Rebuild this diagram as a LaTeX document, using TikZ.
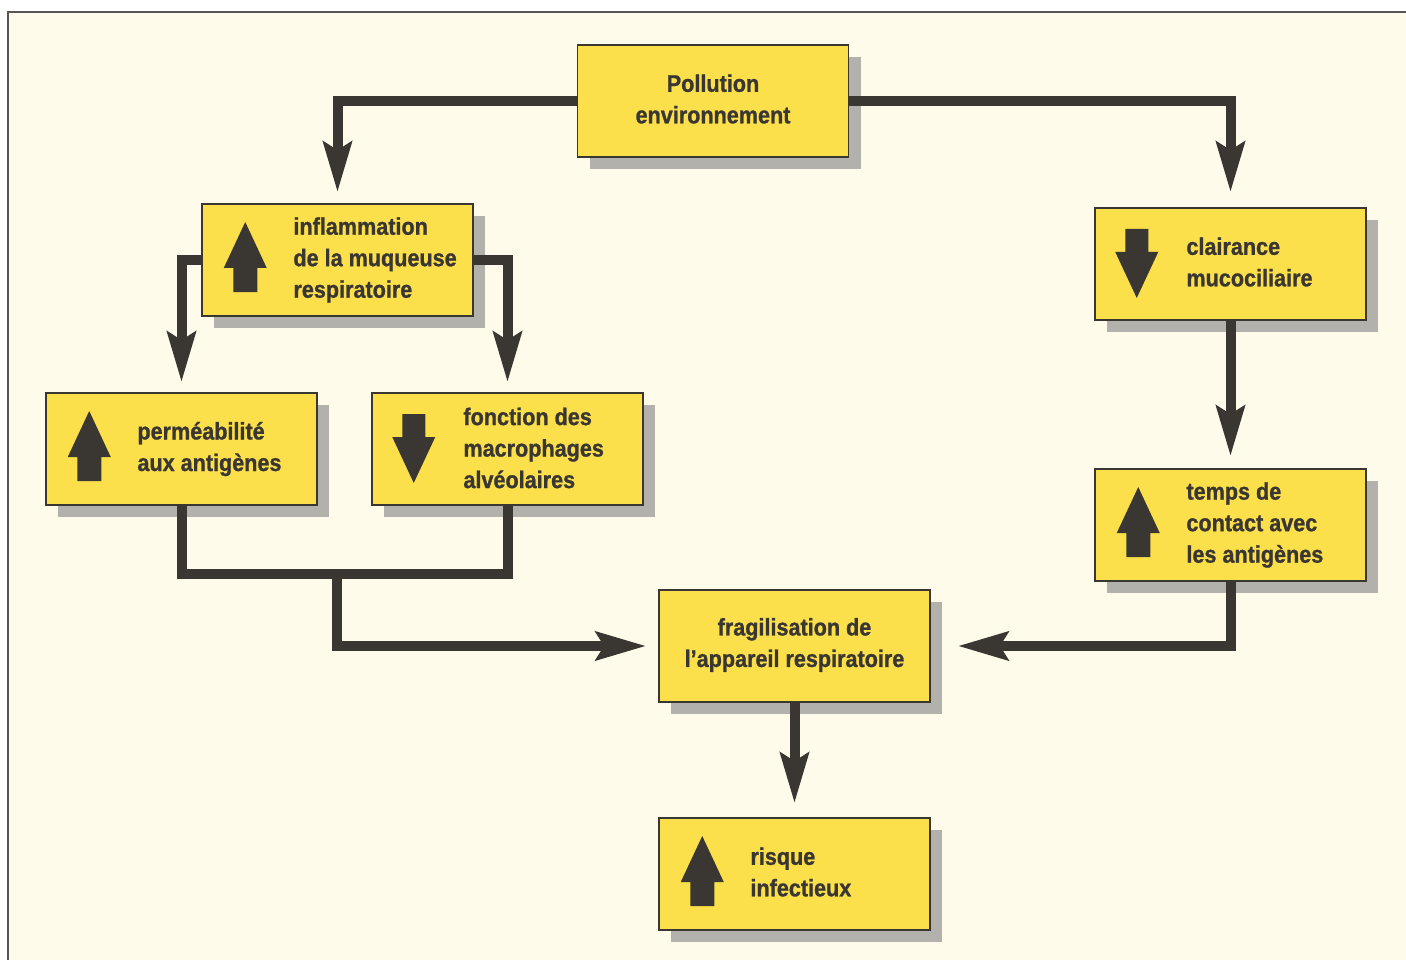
\documentclass[tikz,border=0pt]{standalone}
\usepackage{fontspec}
\newfontfamily\lblfont{Liberation Sans}[FakeStretch=0.9,FakeBold=1]
\usetikzlibrary{arrows.meta,shadows}
\definecolor{creamc}{HTML}{FEFBEA}
\definecolor{yellowc}{HTML}{FCE04B}
\definecolor{inkc}{HTML}{3A3632}
\definecolor{shadowc}{HTML}{B3B1AB}
\definecolor{framec}{HTML}{5A5552}
\tikzset{
  box/.style={draw=inkc, line width=1.5pt, fill=yellowc, minimum width=271pt, minimum height=112pt,
    inner sep=0pt, align=center, text=inkc, font=\lblfont\bfseries\fontsize{24}{31.5}\selectfont,
    drop shadow={shadow xshift=12pt, shadow yshift=-12pt, fill=shadowc, opacity=1}},
  lbl/.style={anchor=west, inner sep=0pt, align=left, text=inkc, font=\lblfont\bfseries\fontsize{24}{31.5}\selectfont},
  conn/.style={draw=inkc, line width=10pt, line join=miter, line cap=butt,
    -{Stealth[length=50pt, width=28pt, inset=8pt]}},
  link/.style={draw=inkc, line width=10pt, line join=miter, line cap=butt},
  upblk/.pic={\fill[inkc] (0,-38) -- (21.5,8) -- (12,8) -- (12,32) -- (-12,32) -- (-12,8) -- (-21.5,8) -- cycle;},
  dnblk/.pic={\fill[inkc] (0,34) -- (21.5,-12) -- (11.5,-12) -- (11.5,-35) -- (-11.5,-35) -- (-11.5,-12) -- (-21.5,-12) -- cycle;}
}
\begin{document}
\begin{tikzpicture}[x=1pt,y=-1pt]
\useasboundingbox (0,0) rectangle (1406,960);
\fill[white] (0,0) rectangle (1406,960);
\fill[creamc] (8,12) rectangle (1406,960);
\draw[framec, line width=2pt] (8,960) -- (8,12) -- (1406,12);

% boxes
\node[box] (b1) at (713,101) {};
\node[box] (b2) at (337.5,260) {};
\node[box] (b3) at (1230.5,264) {};
\node[box] (b4) at (181.5,449) {};
\node[box] (b5) at (507.5,449) {};
\node[box] (b6) at (1230.5,525) {};
\node[box] (b7) at (794.5,646) {};
\node[box] (b8) at (794.5,874) {};

% labels
\node[lbl, anchor=center, align=center] (t1) at ([yshift=2pt]b1.center) {Pollution\\environnement};
\node[lbl, anchor=center, align=center] (t7) at ([yshift=1pt]b7.center) {fragilisation de\\l’appareil respiratoire};
\node[lbl] (t2) at ([xshift=92pt]b2.west) {inflammation\\de la muqueuse\\respiratoire};
\node[lbl] (t3) at ([xshift=92pt,yshift=2pt]b3.west) {clairance\\mucociliaire};
\node[lbl] (t4) at ([xshift=92pt]b4.west) {perméabilité\\aux antigènes};
\node[lbl] (t5) at ([xshift=92pt,yshift=1pt]b5.west) {fonction des\\macrophages\\alvéolaires};
\node[lbl] (t6) at ([xshift=92pt]b6.west) {temps de\\contact avec\\les antigènes};
\node[lbl] (t8) at ([xshift=92pt,yshift=2pt]b8.west) {risque\\infectieux};

% block arrows
\pic at ([xshift=44pt]b2.west) {upblk};
\pic at ([xshift=42.5pt]b3.west) {dnblk};
\pic at ([xshift=44pt]b4.west) {upblk};
\pic at ([xshift=42.5pt]b5.west) {dnblk};
\pic at ([xshift=44pt]b6.west) {upblk};
\pic at ([xshift=44pt]b8.west) {upblk};

% connectors
\coordinate (j) at (337,574);
\draw[conn, shorten >=11pt] (b1.west) -| (b2.north);
\draw[conn, shorten >=15pt] (b1.east) -| (b3.north);
\draw[conn, shorten >=10pt] (b2.west) -| (b4.north);
\draw[conn, shorten >=10pt] (b2.east) -| (b5.north);
\draw[link] (b4.south) |- (j) -| (b5.south);
\draw[conn, shorten >=12pt] (j) |- (b7.west);
\draw[conn, shorten >=12pt] (b3.south) -- (b6.north);
\draw[conn, shorten >=27pt] (b6.south) |- (b7.east);
\draw[conn, shorten >=14pt] (b7.south) -- (b8.north);
\end{tikzpicture}
\end{document}
